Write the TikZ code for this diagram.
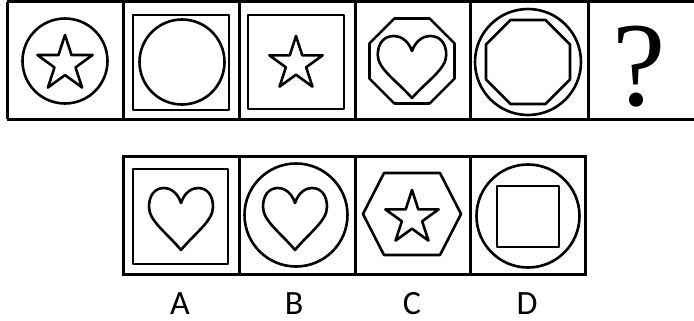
\documentclass[tikz,border=0pt]{standalone}
\usepackage{fontspec}
\usetikzlibrary{calc}
\newfontfamily\labelfont{Carlito}
\newfontfamily\askfont{Liberation Serif}

\tikzset{
  grid line/.style={line width=3pt},
  fig line/.style={line width=2.6pt, line join=round},
  letter/.style={font=\labelfont\fontsize{34}{34}\selectfont, anchor=base, inner sep=0pt},
  % heart, top of the lobes at the origin
  pics/heartpic/.style={code={
    \draw[fig line] (0,15) .. controls (-4,3) and (-12,0) .. (-17,0)
      .. controls (-26,0) and (-32,7) .. (-32,19)
      .. controls (-32,33) and (-14,45) .. (0,62)
      .. controls (14,45) and (32,33) .. (32,19)
      .. controls (32,7) and (26,0) .. (17,0)
      .. controls (12,0) and (4,3) .. (0,15) -- cycle;
  }},
  % five pointed star, outer radius #1
  pics/fivestar/.style={code={
    \draw[fig line] (270:#1) \foreach \k in {1,...,9} {
      -- (270+36*\k:{ifthenelse(mod(\k,2)==0,#1,0.382*#1)}) } -- cycle;
  }}
}

\begin{document}
\begin{tikzpicture}[x=1pt,y=-1pt]
  \useasboundingbox (0,0) rectangle (694,321);

  % Centres of the cells
  \coordinate (t1) at (65,61);
  \coordinate (t2) at (181,61);
  \coordinate (t3) at (296,61);
  \coordinate (t4) at (412,61);
  \coordinate (t5) at (528,62);
  \coordinate (t6) at (639,61);
  \coordinate (a) at (181,215);
  \coordinate (b) at (296,215);
  \coordinate (c) at (412,214);
  \coordinate (d) at (528,216);

  % Top row of cells
  \draw[grid line] (7,2) -- (694,2) (7,119) -- (694,119);
  \foreach \x in {7,123,239,355,470,588}
    \draw[grid line] (\x,2) -- (\x,119);

  % Bottom row of cells
  \draw[grid line] (123,156) rectangle (585,274);
  \foreach \x in {239,355,470}
    \draw[grid line] (\x,156) -- (\x,274);

  % 1: circle and star
  \draw[fig line] (t1) circle (42.5);
  \pic at ($(t1)+(0,3)$) {fivestar=29};

  % 2: square and circle
  \draw[fig line] (133,15) rectangle (229,110);
  \draw[fig line] (t2) ++(1,1) circle (42.5);

  % 3: square and star
  \draw[fig line] (248,15) rectangle (344,109);
  \pic at ($(t3)+(0,3)$) {fivestar=28};

  % 4: octagon and heart
  \draw[fig line] (t4) +(22.5:46) \foreach \a in {67.5,112.5,...,337.5} { -- +(\a:46) } -- cycle;
  \pic[xscale=1.07] at (412,36) {heartpic};

  % 5: circle and octagon
  \draw[fig line] (t5) circle (53);
  \draw[fig line] (t5) +(22.5:45.5) \foreach \a in {67.5,112.5,...,337.5} { -- +(\a:45.5) } -- cycle;

  % 6: question mark
  \node[anchor=base, inner sep=0pt, font=\askfont\fontsize{120}{120}\selectfont] (qm) at (t6 |- 0,106) {?};

  % A: square and heart
  \draw[fig line] (133,169) rectangle (228,264);
  \pic at (181,188) {heartpic};

  % B: circle and heart
  \draw[fig line] (b) circle (51.5);
  \pic at (295,188) {heartpic};

  % C: hexagon and star
  \draw[fig line] (c) +(-49,0) -- +(-28,-41) -- +(28,-41) -- +(49,0) -- +(28,41) -- +(-28,41) -- cycle;
  \pic at ($(c)+(0,4)$) {fivestar=28};

  % D: circle and square
  \draw[fig line] (d) circle (51.5);
  \draw[fig line] (497,186) rectangle (559,247);

  % Labels
  \node[letter] (la) at (180,314) {A};
  \node[letter] (lb) at (294,314) {B};
  \node[letter] (lc) at (412,314) {C};
  \node[letter] (ld) at (527,314) {D};
\end{tikzpicture}
\end{document}
